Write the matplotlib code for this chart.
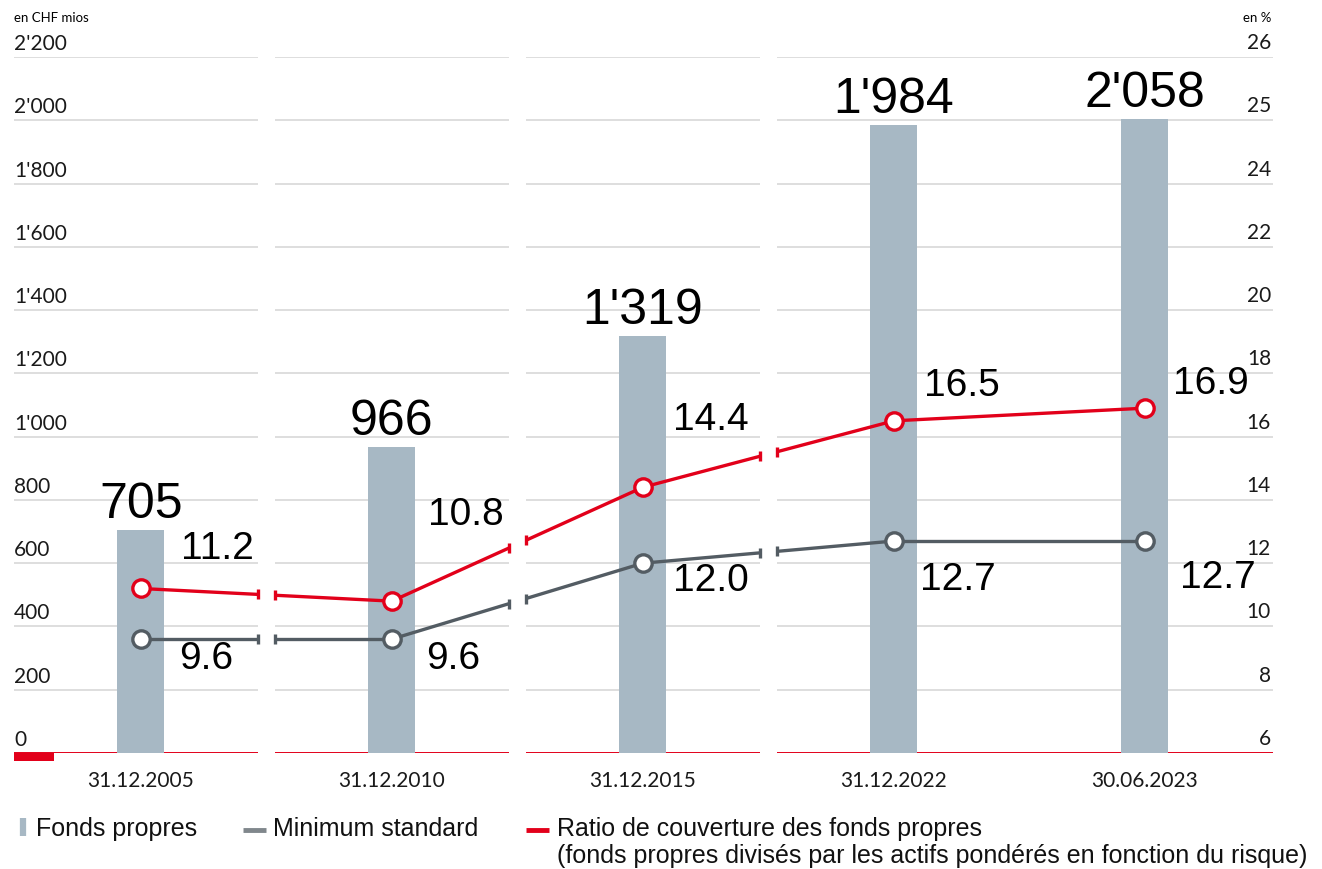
"""Fonds propres vs ratio de couverture, bar + line combo with panel gaps."""

import matplotlib
matplotlib.use("Agg")
import matplotlib.pyplot as plt
import numpy as np
from matplotlib.lines import Line2D
from matplotlib.patches import Rectangle

# --- data -------------------------------------------------------------
dates = ["31.12.2005", "31.12.2010", "31.12.2015", "31.12.2022", "30.06.2023"]
fonds_labels = ["705", "966", "1'319", "1'984", "2'058"]
# bar heights as drawn in the source (the last bar stops at the 2'000 line)
bar_heights = [705, 966, 1319, 1984, 2005]
ratio = [11.2, 10.8, 14.4, 16.5, 16.9]
minimum = [9.6, 9.6, 12.0, 12.7, 12.7]
left_ticks = [0, 200, 400, 600, 800, 1000, 1200, 1400, 1600, 1800, 2000, 2200]
left_labels = ["0", "200", "400", "600", "800", "1'000", "1'200", "1'400",
               "1'600", "1'800", "2'000", "2'200"]
right_ticks = [6, 8, 10, 12, 14, 16, 18, 20, 22, 24, 26, 28]
right_labels = ["6", "8", "10", "12", "14", "16", "18", "20", "22", "24", "25", "26"]
breaks = [0.5, 1.5, 2.5]  # where the panels are split

# --- style ------------------------------------------------------------
BAR = "#a7b8c4"
RED = "#e2001a"
GREY = "#535c63"
GRID = "#dedede"
W, H = 1322, 869
PT = 0.72  # px -> pt at dpi 100

# label offsets in px (dx, dy up)
ratio_off = [(77, 39), (74, 86), (68, 67), (68, 35), (66, 24)]
min_off = [(65, -20), (61, -20), (68, -18), (64, -39), (73, -37)]

NUM_FONT = ["Liberation Sans", "DejaVu Sans"]
AX_FONT = ["Lato", "DejaVu Sans"]

fig = plt.figure(figsize=(W / 100, H / 100), dpi=100)
ax = fig.add_axes([14 / W, (H - 753) / H, (1273 - 14) / W, (753 - 57) / H])
ax2 = ax.twinx()

x = np.arange(len(dates))
xmin, xmax = -0.505, 4.51
gap = 0.034
ax.set_xlim(xmin, xmax)
ax.set_ylim(0, 2200)
ax2.set_ylim(6, 28)

for a in (ax, ax2):
    for s in a.spines.values():
        s.set_visible(False)
    a.set_yticks([])
ax.set_xticks(x, dates, fontfamily=AX_FONT, fontsize=15, color="#1a1a1a")
ax.tick_params(axis="x", length=0, pad=13)
ax2.tick_params(axis="x", length=0)

# panel segments (gridlines broken between panels)
bounds = [xmin] + [v for b in breaks for v in (b - gap, b + gap)] + [xmax]
segments = list(zip(bounds[0::2], bounds[1::2]))

for t in left_ticks:
    for a0, a1 in segments:
        ax.plot([a0, a1], [t, t], color=RED if t == 0 else GRID,
                lw=1.4, zorder=1, solid_capstyle="butt")

ax.bar(x, bar_heights, width=0.187, color=BAR, zorder=2)

for xi, v, lab in zip(x, bar_heights, fonds_labels):
    ax.annotate(lab, (xi, v), xytext=(0, 12 * PT), textcoords="offset points",
                ha="center", va="baseline", fontsize=36, family=NUM_FONT, zorder=5)

# small red foot marker
ax.add_patch(Rectangle((0, 0), 40 / 1259, -8 / 696, transform=ax.transAxes,
                       color=RED, clip_on=False, lw=0, zorder=3))

# axis tick labels above the gridlines
for t, lab in zip(left_ticks, left_labels):
    ax.annotate(lab, (xmin, t), xytext=(0, 7 * PT), textcoords="offset points",
                ha="left", va="baseline", fontsize=15, family=AX_FONT, color="#1a1a1a")
for t, lab in zip(right_ticks, right_labels):
    ax2.annotate(lab, (xmax, t), xytext=(-2 * PT, 8 * PT), textcoords="offset points",
                 ha="right", va="baseline", fontsize=15, family=AX_FONT, color="#1a1a1a")


def broken_line(a, values, color, offsets):
    vals = np.asarray(values, dtype=float)
    for i in range(len(vals) - 1):
        b = i + 0.5
        if b in breaks:
            xa, xb = b - gap, b + gap
            ya, yb = np.interp([xa, xb], x, vals)
            for seg in (([i, xa], [vals[i], ya]), ([xb, i + 1], [yb, vals[i + 1]])):
                a.plot(*seg, color=color, lw=2.4, zorder=3, solid_capstyle="butt")
            a.plot([xa, xb], [ya, yb], ls="none", marker="|", ms=7.5, mew=2.4,
                   color=color, zorder=3)
        else:
            a.plot([i, i + 1], vals[i:i + 2], color=color, lw=2.4, zorder=3)
    a.plot(x, vals, ls="none", marker="o", ms=12.5, mfc="white", mec=color,
           mew=2.4, zorder=4)
    for xi, v, (dx, dy) in zip(x, vals, offsets):
        a.annotate(f"{v:.1f}", (xi, v), xytext=(dx * PT, dy * PT),
                   textcoords="offset points", ha="center", va="center",
                   fontsize=28, family=NUM_FONT, zorder=5)


broken_line(ax2, minimum, GREY, min_off)
broken_line(ax2, ratio, RED, ratio_off)

# --- overlay for unit captions and legend (pixel coords) --------------
ov = fig.add_axes([0, 0, 1, 1], zorder=10)
ov.set_xlim(0, W)
ov.set_ylim(H, 0)
ov.axis("off")
ov.patch.set_alpha(0)

ov.text(14, 18, "en CHF mios", fontsize=9.5, family=AX_FONT, va="center", ha="left")
ov.text(1271, 18, "en %", fontsize=9.5, family=AX_FONT, va="center", ha="right")

ov.add_line(Line2D([22.5, 22.5], [818, 836], color=BAR, lw=4.5, solid_capstyle="butt"))
ov.add_line(Line2D([243, 266], [830, 830], color="#80878c", lw=3.5, solid_capstyle="butt"))
ov.add_line(Line2D([526, 549], [830, 830], color=RED, lw=3.5, solid_capstyle="butt"))
legend_kw = dict(fontsize=18, family=NUM_FONT, va="baseline", ha="left", color="#111")
ov.text(36, 836, "Fonds propres", **legend_kw)
ov.text(273, 836, "Minimum standard", **legend_kw)
ov.text(557, 836, "Ratio de couverture des fonds propres", **legend_kw)
ov.text(557, 863, "(fonds propres divisés par les actifs pondérés en fonction du risque)",
        **legend_kw)

fig.savefig("out.png", dpi=100, facecolor="white")
